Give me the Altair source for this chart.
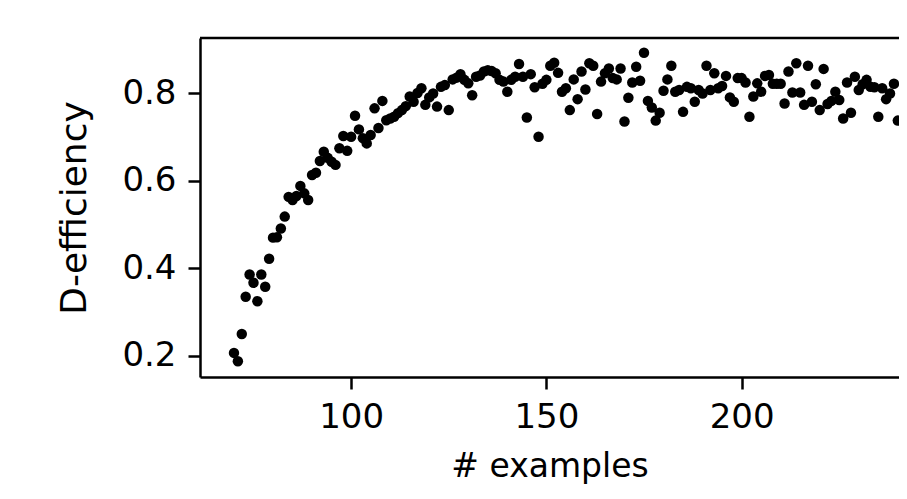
import altair as alt
import pandas as pd

examples = list(range(70, 241))
d_eff = [
    0.207, 0.188, 0.250, 0.335, 0.386, 0.367, 0.325, 0.386, 0.358, 0.422,  # 70-79
    0.470, 0.471, 0.491, 0.518, 0.563, 0.556, 0.565, 0.588, 0.571, 0.556,  # 80-89
    0.613, 0.618, 0.645, 0.666, 0.652, 0.643, 0.636, 0.674, 0.702, 0.668,  # 90-99
    0.700, 0.748, 0.717, 0.697, 0.685, 0.704, 0.765, 0.720, 0.782, 0.738,  # 100-109
    0.742, 0.746, 0.754, 0.761, 0.770, 0.792, 0.780, 0.800, 0.811, 0.773,  # 110-119
    0.790, 0.799, 0.769, 0.814, 0.818, 0.761, 0.831, 0.835, 0.843, 0.830,  # 120-129
    0.822, 0.795, 0.837, 0.840, 0.849, 0.852, 0.850, 0.845, 0.830, 0.826,  # 130-139
    0.803, 0.830, 0.837, 0.866, 0.837, 0.744, 0.843, 0.813, 0.700, 0.821,  # 140-149
    0.830, 0.862, 0.869, 0.846, 0.803, 0.811, 0.761, 0.831, 0.786, 0.849,  # 150-159
    0.808, 0.868, 0.862, 0.752, 0.826, 0.845, 0.856, 0.834, 0.831, 0.856,  # 160-169
    0.735, 0.789, 0.824, 0.860, 0.828, 0.892, 0.782, 0.767, 0.737, 0.755,  # 170-179
    0.805, 0.831, 0.862, 0.803, 0.807, 0.757, 0.814, 0.811, 0.780, 0.807,  # 180-189
    0.799, 0.862, 0.807, 0.845, 0.811, 0.816, 0.839, 0.790, 0.780, 0.834,  # 190-199
    0.834, 0.824, 0.746, 0.792, 0.822, 0.803, 0.839, 0.841, 0.821, 0.821,  # 200-209
    0.821, 0.776, 0.849, 0.801, 0.868, 0.801, 0.773, 0.862, 0.780, 0.820,  # 210-219
    0.761, 0.855, 0.775, 0.782, 0.803, 0.784, 0.742, 0.824, 0.755, 0.837,  # 220-229
    0.807, 0.820, 0.830, 0.814, 0.813, 0.746, 0.811, 0.786, 0.799, 0.821,  # 230-239
    0.737,                                                                  # 240
]
x_ticks = [100, 150, 200]
y_ticks = [0.2, 0.4, 0.6, 0.8]

df = pd.DataFrame({"examples": examples, "deff": d_eff})

W, H = 699, 339
X0 = 61.3
X1 = X0 + W / 3.905
FONT = "DejaVu Sans"
FS = 34

points = alt.Chart(df).mark_circle(color="black", size=110, opacity=1).encode(
    x=alt.X("examples:Q",
            scale=alt.Scale(domain=[X0, X1], nice=False, zero=False),
            axis=alt.Axis(values=x_ticks, title="# examples", format="d",
                          labelFontSize=FS, titleFontSize=33, labelFont=FONT, titleFont=FONT,
                          labelColor="black", titleColor="black", titleFontWeight="normal",
                          tickSize=12, tickWidth=2.5, tickColor="black",
                          domainColor="black", domainWidth=2.5, grid=False,
                          labelPadding=11, titlePadding=16)),
    y=alt.Y("deff:Q",
            scale=alt.Scale(domain=[0.152, 0.9255], nice=False, zero=False),
            axis=alt.Axis(values=y_ticks, title="D-efficiency", format=".1f",
                          labelFontSize=FS, titleFontSize=36, labelFont=FONT, titleFont=FONT,
                          labelColor="black", titleColor="black", titleFontWeight="normal",
                          tickSize=12, tickWidth=2.5, tickColor="black",
                          domainColor="black", domainWidth=2.5, grid=False,
                          labelPadding=12, titlePadding=28)),
)

top_border = alt.Chart(df.head(1)).mark_rule(color="black", strokeWidth=2.5).encode(
    x=alt.value(0), x2=alt.value(W), y=alt.value(0)
)

chart = alt.layer(points, top_border).properties(
    width=W, height=H,
    autosize=alt.AutoSizeParams(type="none"),
    padding={"left": 192, "top": 30, "right": 0, "bottom": 110},
).configure_view(stroke=None).configure(background="white")

chart.save("out.html", embed_options={"renderer": "svg", "actions": False})
